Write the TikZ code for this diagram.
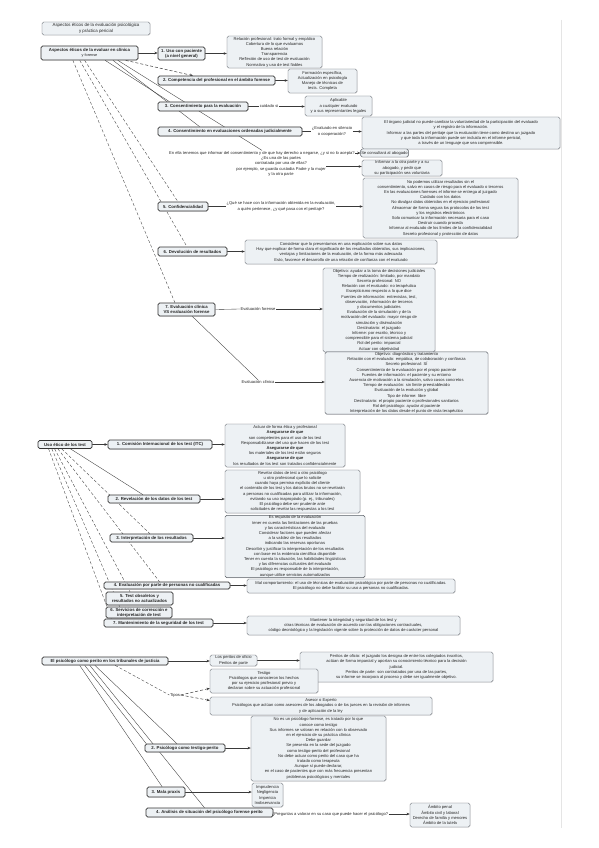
\documentclass[tikz,border=0pt]{standalone}
\usepackage{fontspec}
\setmainfont{Liberation Sans}
\usetikzlibrary{arrows.meta,backgrounds,shadows,calc}
\definecolor{bxfill}{HTML}{EDF1F4}
\definecolor{bxdraw}{HTML}{5A5F66}
\definecolor{lncol}{HTML}{3A3A3A}
\tikzset{
 every node/.style={font=\fontsize{4.1}{5.2}\selectfont, text=black!85},
 sz/.style 2 args={minimum width=#1pt, minimum height=#2pt},
 bx/.style={draw=bxdraw, line width=0.45pt, fill=bxfill, rounded corners=1.6pt, align=center, inner sep=0.6pt,
   drop shadow={shadow xshift=0.5pt,shadow yshift=-0.5pt,opacity=0.25}},
 topic/.style={bx, line width=0.7pt, draw=black!80, font=\fontsize{4.3}{5.2}\selectfont\bfseries},
 lbl/.style={align=center, inner sep=0.5pt},
 arr/.style={draw=lncol, line width=0.5pt, -{Stealth[length=3.2pt,width=2.6pt]}},
 con/.style={draw=lncol, line width=0.35pt},
 dcon/.style={draw=lncol, line width=0.35pt, densely dashed},
}
\begin{document}
\begin{tikzpicture}[x=1pt,y=-1pt]
\useasboundingbox (0,0) rectangle (599,848);

% ---------------- Section 1 ----------------
\node[bx, sz={108}{13}, font=\fontsize{4.4}{5.4}\selectfont] (t0) at (96,28.5) {Aspectos éticos de la evaluación psicológica\\y práctica pericial};
\node[topic, sz={97}{14}] (m1) at (89.5,53) {Aspectos éticos de la evaluar en clínica\\[-0.5pt]{\normalfont\fontsize{3.8}{4.6}\selectfont y forense}};

\node[topic, sz={47}{13}] (a1) at (181.5,53.5) {1. Uso con paciente\\(a nivel general)};
\node[bx, sz={95}{32}] (b1) at (274.5,52) {Relación profesional: trato formal y empático\\Cobertura de lo que evaluamos\\Buena relación\\Transparencia\\Reflexión de uso de test de evaluación\\Normativa y uso de test fiables};

\node[topic, sz={117}{9}] (a2) at (216.5,80.5) {2. Competencia del profesional en el ámbito forense};
\node[bx, sz={69}{24}] (b2) at (322.5,81) {Formación específica,\\Actualización en psicología\\Manejo de técnicas de\\tests. Completa};

\node[topic, sz={90}{9}] (a3) at (203,106.5) {3. Consentimiento para la evaluación};
\node[lbl] (l3) at (269,106.5) {cuidado si};
\node[bx, sz={67}{20}] (b3) at (338.5,106) {Aplicable\\a cualquier evaluado\\y a sus representantes legales};

\node[topic, sz={144}{9}] (a4) at (230,131.5) {4. Consentimiento en evaluaciones ordenadas judicialmente};
\node[lbl] (l4) at (332,131.5) {¿Evaluado en silencio\\o cooperación?};
\node[bx, sz={198}{32}] (b4) at (461,133) {El órgano judicial no puede cambiar la voluntariedad de la participación del evaluado\\y el registro de la información.\\Informar a las partes del peritaje que la evaluación tiene como destino un juzgado\\y que toda la información puede ser incluida en el informe pericial,\\a través de un lenguaje que sea comprensible.};

\node[lbl] (l5a) at (262,153) {En ella tenemos que informar del consentimiento y de que hay derecho a negarse, ¿y si no lo acepta?};
\node[bx, sz={45}{8}] (b5a) at (384.5,153) {Se consultará al abogado};
\node[lbl] (l5b) at (281,166.5) {¿Es una de las partes\\contratada por una de ellas?\\por ejemplo, se guarda custodia Padre y la mujer\\y la otra parte};
\node[bx, sz={80}{16}] (b5b) at (402,168) {Informar a la otra parte y a su\\abogado, y pedir que\\su participación sea voluntaria};

\node[topic, sz={50}{9}] (a5) at (183,206.5) {5. Confidencialidad};
\node[lbl] (l6) at (281,206.5) {¿Qué se hace con la información obtenida en la evaluación,\\a quién pertenece, ¿y qué pasa con el peritaje?};
\node[bx, sz={155}{60}] (b6) at (440.5,208) {No podemos utilizar resultados sin el\\consentimiento, salvo en casos de riesgo para el evaluado o terceros\\En las evaluaciones forenses el informe se entrega al juzgado\\Cuidado con los datos\\No divulgar datos obtenidos en el ejercicio profesional\\Almacenar de forma segura los protocolos de los test\\y los registros electrónicos\\Solo comunicar la información necesaria para el caso\\Destruir cuando proceda\\Informar al evaluado de los límites de la confidencialidad\\Secreto profesional y protección de datos};

\node[topic, sz={69}{9}] (a6) at (192.5,251.5) {6. Devolución de resultados};
\node[bx, sz={192}{24}] (b7) at (341,252) {Considerar que lo presentamos en una explicación sobre sus datos\\Hay que explicar de forma clara el significado de los resultados obtenidos, sus implicaciones,\\ventajas y limitaciones de la evaluación, de la forma más adecuada\\Esto, favorece el desarrollo de una relación de confianza con el evaluado};

\node[topic, sz={57}{13}] (a7) at (186.5,309.5) {7. Evaluación clínica\\VS evaluación forense};
\node[lbl] (l7a) at (258,309) {Evaluación forense};
\node[bx, sz={112}{84}] (b8) at (379,310) {Objetivo: ayudar a la toma de decisiones judiciales\\Tiempo de realización: limitado, por mandato\\Secreto profesional: NO\\Relación con el evaluado: no terapéutica\\Escepticismo respecto a lo que dice\\Fuentes de información: entrevistas, test,\\observación, información de terceros\\y documentos judiciales\\Evaluación de la simulación y de la\\motivación del evaluado: mayor riesgo de\\simulación y disimulación\\Destinatario: el juzgado\\Informe: por escrito, técnico y\\comprensible para el sistema judicial\\Rol del perito: imparcial\\Actuar con objetividad};
\node[lbl] (l7b) at (258,382) {Evaluación clínica};
\node[bx, sz={163}{60}] (b9) at (406.5,383) {Objetivo: diagnóstico y tratamiento\\Relación con el evaluado: empática, de colaboración y confianza\\Secreto profesional: SÍ\\Consentimiento de la evaluación por el propio paciente\\Fuentes de información: el paciente y su entorno\\Ausencia de motivación a la simulación, salvo casos concretos\\Tiempo de evaluación: sin límite preestablecido\\Evaluación de la evolución y global\\Tipo de informe: libre\\Destinatario: el propio paciente o profesionales sanitarios\\Rol del psicólogo: ayudar al paciente\\Interpretación de los datos desde el punto de vista terapéutico};

% ---------------- Section 2 ----------------
\node[topic, sz={54}{8}] (m2) at (65,444.5) {Uso ético de los test};
\node[topic, sz={104}{9}] (c1) at (160,444.5) {1. Comisión Internacional de los test (ITC)};
\node[bx, sz={120}{43}] (d1) at (285,445.5) {Actuar de forma ética y profesional\\\textbf{Asegurarse de que}\\son competentes para el uso de los test\\Responsabilizarse del uso que hacen de los test\\\textbf{Asegurarse de que}\\los materiales de los test están seguros\\\textbf{Asegurarse de que}\\los resultados de los test son tratados confidencialmente};

\node[topic, sz={92}{8}] (c2) at (154,499) {2. Revelación de los datos de los test};
\node[bx, sz={135}{43}] (d2) at (292.5,491.5) {Revelar datos de test a otro psicólogo\\u otro profesional que lo solicite\\cuando haya permiso explícito del cliente\\el contenido de los test y los datos brutos no se revelarán\\a personas no cualificadas para utilizar la información,\\evitando su uso inapropiado (p. ej., tribunales)\\El psicólogo debe ser prudente ante\\solicitudes de revelar las respuestas a los test};

\node[topic, sz={83}{8}] (c3) at (151.5,538) {3. Interpretación de los resultados};
\node[bx, sz={140}{59}] (d3) at (295,546.5) {Es requisito de la evaluación\\tener en cuenta las limitaciones de las pruebas\\y las características del evaluado\\Considerar factores que pueden afectar\\a la validez de los resultados\\indicando las reservas oportunas\\Describir y justificar la interpretación de los resultados\\con base en la evidencia científica disponible\\Tener en cuenta la situación, las habilidades lingüísticas\\y las diferencias culturales del evaluado\\El psicólogo es responsable de la interpretación,\\aunque utilice servicios automatizados};

\node[topic, sz={126}{7}] (c4) at (167,585.5) {4. Evaluación por parte de personas no cualificadas};
\node[bx, sz={208}{14}] (d4) at (351,586) {Mal comportamiento: el uso de técnicas de evaluación psicológica por parte de personas no cualificadas.\\El psicólogo no debe facilitar su uso a personas no cualificadas.};
\node[topic, sz={67}{13}] (c5) at (139.5,598.5) {5. Test obsoletos y\\resultados no actualizados};
\node[topic, sz={66}{11}] (c6) at (139,612.5) {6. Servicios de corrección e\\interpretación de test};
\node[topic, sz={109}{8}] (c7) at (158.5,623) {7. Mantenimiento de la seguridad de los test};
\node[bx, sz={213}{19}] (d7) at (353.5,625.5) {Mantener la integridad y seguridad de los test y\\otras técnicas de evaluación de acuerdo con las obligaciones contractuales,\\código deontológico y la legislación vigente sobre la protección de datos de carácter personal};

% ---------------- Section 3 ----------------
\node[topic, sz={126}{8}] (m3) at (105,661) {El psicólogo como perito en los tribunales de justicia};
\node[bx, sz={47}{11}] (e1) at (233.5,660.5) {Los peritos de oficio\\Peritos de parte};
\node[bx, sz={193}{30}] (f1) at (396.5,667) {Peritos de oficio: el juzgado los designa de entre los colegiados inscritos,\\actúan de forma imparcial y aportan su conocimiento técnico para la decisión\\judicial.\\Peritos de parte: son contratados por una de las partes,\\su informe se incorpora al proceso y debe ser igualmente objetivo.};
\node[bx, sz={108}{24}] (e2) at (264,681) {Testigo\\Psicólogos que conocieron los hechos\\por su ejercicio profesional previo y\\declaran sobre su actuación profesional};
\node[bx, sz={222}{18}] (e3) at (321,706) {Asesor o Experto\\Psicólogos que actúan como asesores de los abogados o de los jueces en la revisión de informes\\y de aplicación de la ley};
\node[lbl] (tip) at (175,695) {Tipos};

\node[topic, sz={80}{8}] (g2) at (185,748) {2. Psicólogo como testigo-perito};
\node[bx, sz={135}{65}] (h2) at (318.5,748.5) {No es un psicólogo forense, es tratado por lo que\\conoce como testigo\\Sus informes se valoran en relación con lo observado\\en el ejercicio de su práctica clínica\\Debe guardar\\Se presenta en la sede del juzgado\\como testigo-perito del profesional\\No debe actuar como perito del caso que ha\\tratado como terapeuta\\Aunque sí puede declarar,\\en el caso de pacientes que con más frecuencia presentan\\problemas psicológicos y mentales};
\node[topic, sz={38}{10}] (g3) at (166,792) {3. Mala praxis};
\node[bx, sz={31}{24}] (h3) at (267.5,795) {Imprudencia\\Negligencia\\Impericia\\Inobservancia};
\node[topic, sz={127}{9}] (g4) at (209.5,812.5) {4. Análisis de situación del psicólogo forense perito};
\node[lbl] (l8) at (330,814) {¿Preguntas a valorar en su caso que puede hacer el psicólogo?};
\node[bx, sz={60}{24}] (h4) at (440,815) {Ámbito penal\\Ámbito civil y laboral\\Derecho de familia y menores\\Ámbito de la tutela};

% ---------------- Connectors (behind boxes) ----------------
\begin{pgfonlayer}{background}
\fill[white] (0,0) rectangle (599,848);
\draw[black!10, line width=0.4pt] (561,20) -- (561,828);
% section 1
\draw[arr] (m1.east) -- (m1.east -| a1.west);
\draw[arr] (a1.east) -- (a1.east -| b1.west);
\draw[arr, densely dashed] ($(m1.south west)!0.87!(m1.south east)$) -- ($(a2.north west)!0.3!(a2.north east)$);
\draw[arr] (a2.east) -- (a2.east -| b2.west);
\draw[con] ($(m1.south west)!0.66!(m1.south east)$) -- ($(a3.north west)!0.13!(a3.north east)$);
\draw[con] (a3.east) -- (l3.west);
\draw[arr] (l3.east) -- (l3.east -| b3.west);
\draw[con] ($(m1.south west)!0.74!(m1.south east)$) -- ($(a4.north west)!0.29!(a4.north east)$);
\draw[con] (a4.east) -- (l4.west);
\draw[arr] (l4.east) -- (l4.east -| b4.west);
\draw[con] ($(m1.south west)!0.79!(m1.south east)$) -- (l5a.north);
\draw[arr] (l5a.east) -- (l5a.east -| b5a.west);
\draw[arr] (l5b.east) -- (l5b.east -| b5b.west);
\draw[dcon] ($(m1.south west)!0.45!(m1.south east)$) -- ($(a5.north west)!0.4!(a5.north east)$);
\draw[con] (a5.east) -- (l6.west);
\draw[arr] (l6.east) -- (l6.east -| b6.west);
\draw[dcon] ($(m1.south west)!0.40!(m1.south east)$) -- ($(a6.north west)!0.42!(a6.north east)$);
\draw[arr] (a6.east) -- (a6.east -| b7.west);
\draw[dcon] ($(m1.south west)!0.33!(m1.south east)$) -- ($(a7.north west)!0.3!(a7.north east)$);
\draw[con] (a7.east) -- (l7a.west);
\draw[arr] (l7a.east) -- (l7a.east -| b8.west);
\draw[con] ($(a7.south west)!0.6!(a7.south east)$) -- (l7b.north);
\draw[arr] (l7b.east) -- (l7b.east -| b9.west);
% section 2
\draw[arr] (m2.east) -- (m2.east -| c1.west);
\draw[arr] (c1.east) -- (c1.east -| d1.west);
\draw[con] ($(m2.south west)!0.6!(m2.south east)$) -- ($(c2.north west)!0.38!(c2.north east)$);
\draw[arr] (c2.east) -- (c2.east -| d2.west);
\draw[dcon] ($(m2.south west)!0.44!(m2.south east)$) -- ($(c3.north west)!0.48!(c3.north east)$);
\draw[arr] (c3.east) -- (c3.east -| d3.west);
\draw[dcon] ($(m2.south west)!0.37!(m2.south east)$) -- ($(c4.north west)!0.44!(c4.north east)$);
\draw[arr] (c4.east) -- (c4.east -| d4.west);
\draw[dcon] ($(m2.south west)!0.31!(m2.south east)$) -- ($(c5.north west)!0.36!(c5.north east)$);
\draw[dcon] ($(m2.south west)!0.26!(m2.south east)$) -- ($(c6.north west)!0.21!(c6.north east)$);
\draw[dcon] ($(m2.south west)!0.2!(m2.south east)$) -- ($(c7.north west)!0.07!(c7.north east)$);
\draw[arr] (c7.east) -- (c7.east -| d7.west);
% section 3
\draw[arr] (m3.east) -- (m3.east -| e1.west);
\draw[arr] (e1.east) -- (e1.east -| f1.west);
\draw[dcon] ($(m3.south west)!0.58!(m3.south east)$) -- (tip.west);
\draw[arr, densely dashed] (tip.east) -- ($(e2.south west)!0.2!(e2.north west)$);
\draw[arr, densely dashed] (tip.east) -- ($(e3.north west)!0.2!(e3.south west)$);
\draw[con] ($(m3.south west)!0.34!(m3.south east)$) -- ($(g2.north west)!0.02!(g2.north east)$);
\draw[con] ($(m3.south west)!0.42!(m3.south east)$) -- ($(g2.north west)!0.4!(g2.north east)$);
\draw[con] ($(m3.south west)!0.3!(m3.south east)$) -- ($(g3.north west)!0.4!(g3.north east)$);
\draw[con] ($(m3.south west)!0.38!(m3.south east)$) -- ($(g4.north west)!0.46!(g4.north east)$);
\draw[arr] (g2.east) -- (g2.east -| h2.west);
\draw[arr] (g3.east) -- (g3.east -| h3.west);
\draw[con] (g4.east) -- (l8.west);
\draw[arr] (l8.east) -- (l8.east -| h4.west);
\end{pgfonlayer}
\end{tikzpicture}
\end{document}
